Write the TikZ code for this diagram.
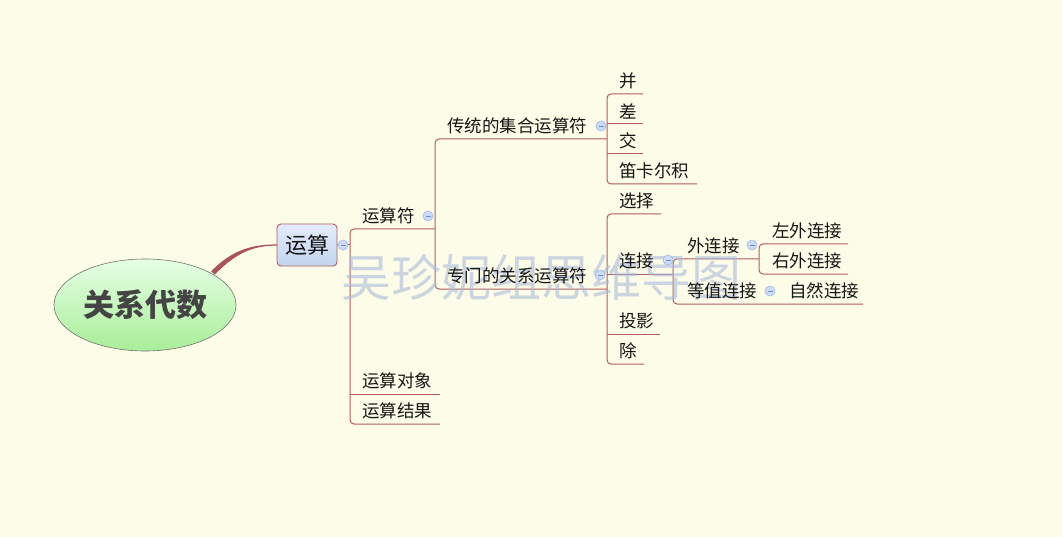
\documentclass[tikz,border=0pt]{standalone}
\usepackage{fontspec}
\setmainfont{Noto Sans CJK SC}
\usetikzlibrary{shapes.geometric}
\definecolor{bg}{RGB}{253,252,232}
\definecolor{ln}{RGB}{178,92,96}
\definecolor{rootln}{RGB}{170,84,88}
\definecolor{txt}{RGB}{22,22,22}
\definecolor{roottxt}{RGB}{68,68,68}
\definecolor{togf}{RGB}{204,220,246}
\definecolor{togb}{RGB}{160,184,230}
\definecolor{togm}{RGB}{110,140,205}
\definecolor{wmc}{RGB}{170,188,220}
\tikzset{
  conn/.style={draw=ln, line width=1pt, rounded corners=4pt},
  topic/.style={anchor=west, inner sep=0pt, text=txt, font=\fontsize{17.5}{17.5}\selectfont},
  tog/.style={circle, draw=togb, fill=togf, line width=0.6pt, minimum size=10pt, inner sep=0pt,
    path picture={\draw[togm, line width=0.9pt] ([xshift=-2.5pt]path picture bounding box.center) -- ([xshift=2.5pt]path picture bounding box.center);}},
  rootnode/.style={ellipse, draw=gray!90!black, line width=0.6pt, top color=green!10!white, bottom color={rgb,255:red,168;green,238;blue,152},
    minimum width=182pt, minimum height=92pt, inner sep=0pt, text=roottxt, font=\fontsize{31}{31}\selectfont\bfseries},
  boxnode/.style={rectangle, rounded corners=4pt, draw=ln, line width=0.9pt, top color={rgb,255:red,228;green,236;blue,250}, bottom color={rgb,255:red,194;green,212;blue,240},
    minimum width=60pt, minimum height=42pt, inner sep=0pt, text=txt, font=\fontsize{22}{22}\selectfont},
  wm/.style={inner sep=0pt, text=wmc, opacity=0.6, font=\fontsize{50}{50}\selectfont}
}
\begin{document}
\begin{tikzpicture}[x=1pt,y=-1pt]
\fill[bg] (0,0) rectangle (1062,537);
\useasboundingbox (0,0) rectangle (1062,537);

% root and first level
\node[rootnode] (root) at (145,305) {关系代数};
\node[boxnode] (ys) at (307,245) {运算};
\coordinate (rc) at (213,273);
\fill[rootln] (211.2,271.3) .. controls (233,248.5) and (255,244.4) .. (277,244.4)
  -- (277,245.6) .. controls (255,245.6) and (237,251.5) .. (214.8,274.7) -- cycle;

% spine coordinates
\coordinate (s1) at (350,245);

% connectors
\draw[conn] (ys.east) -- (s1);
\draw[conn] (435,229) -- (350,229) -- (350,424) -- (440,424);
\draw[conn] (350,394) -- (440,394);
\draw[conn] (607,139) -- (435,139) -- (435,289) -- (607,289);
\draw[conn] (643,94) -- (607,94) -- (607,184) -- (697,184);
\draw[conn] (607,124) -- (643,124);
\draw[conn] (607,154) -- (643,154);
\draw[conn] (661,214) -- (607,214) -- (607,364) -- (644,364);
\draw[conn] (607,274) -- (673,274);
\draw[conn] (607,334) -- (660,334);
\draw[conn] (759,259) -- (673,259) -- (673,304) -- (863,304);
\draw[conn] (848,244) -- (759,244) -- (759,274) -- (848,274);

% watermark
\node[wm] (wmk) at (541,277) {吴珍妮组思维导图};

% topics
\node[topic] (ysf) at (362,216) {运算符};
\node[topic] (ysdx) at (362,381) {运算对象};
\node[topic] (ysjg) at (362,411) {运算结果};
\node[topic] (ct) at (447,126) {传统的集合运算符};
\node[topic] (zm) at (447,276) {专门的关系运算符};
\node[topic] (bing) at (619,81) {并};
\node[topic] (cha) at (619,111) {差};
\node[topic] (jiao) at (619,141) {交};
\node[topic] (dkej) at (619,171) {笛卡尔积};
\node[topic] (xz) at (619,201) {选择};
\node[topic] (lj) at (619,261) {连接};
\node[topic] (ty) at (619,321) {投影};
\node[topic] (chu) at (619,351) {除};
\node[topic] (wlj) at (687,246) {外连接};
\node[topic] (dzlj) at (687,291) {等值连接};
\node[topic] (zwlj) at (772,231) {左外连接};
\node[topic] (ywlj) at (772,261) {右外连接};
\node[topic] (zrlj) at (789,291) {自然连接};

% collapse toggles
\node[tog] (t1) at (343,245) {};
\node[tog] (t2) at (428,216) {};
\node[tog] (t3) at (601,126) {};
\node[tog] (t4) at (600,275) {};
\node[tog] (t5) at (668,260) {};
\node[tog] (t6) at (752,245) {};
\node[tog] (t7) at (770,291) {};
\end{tikzpicture}
\end{document}
